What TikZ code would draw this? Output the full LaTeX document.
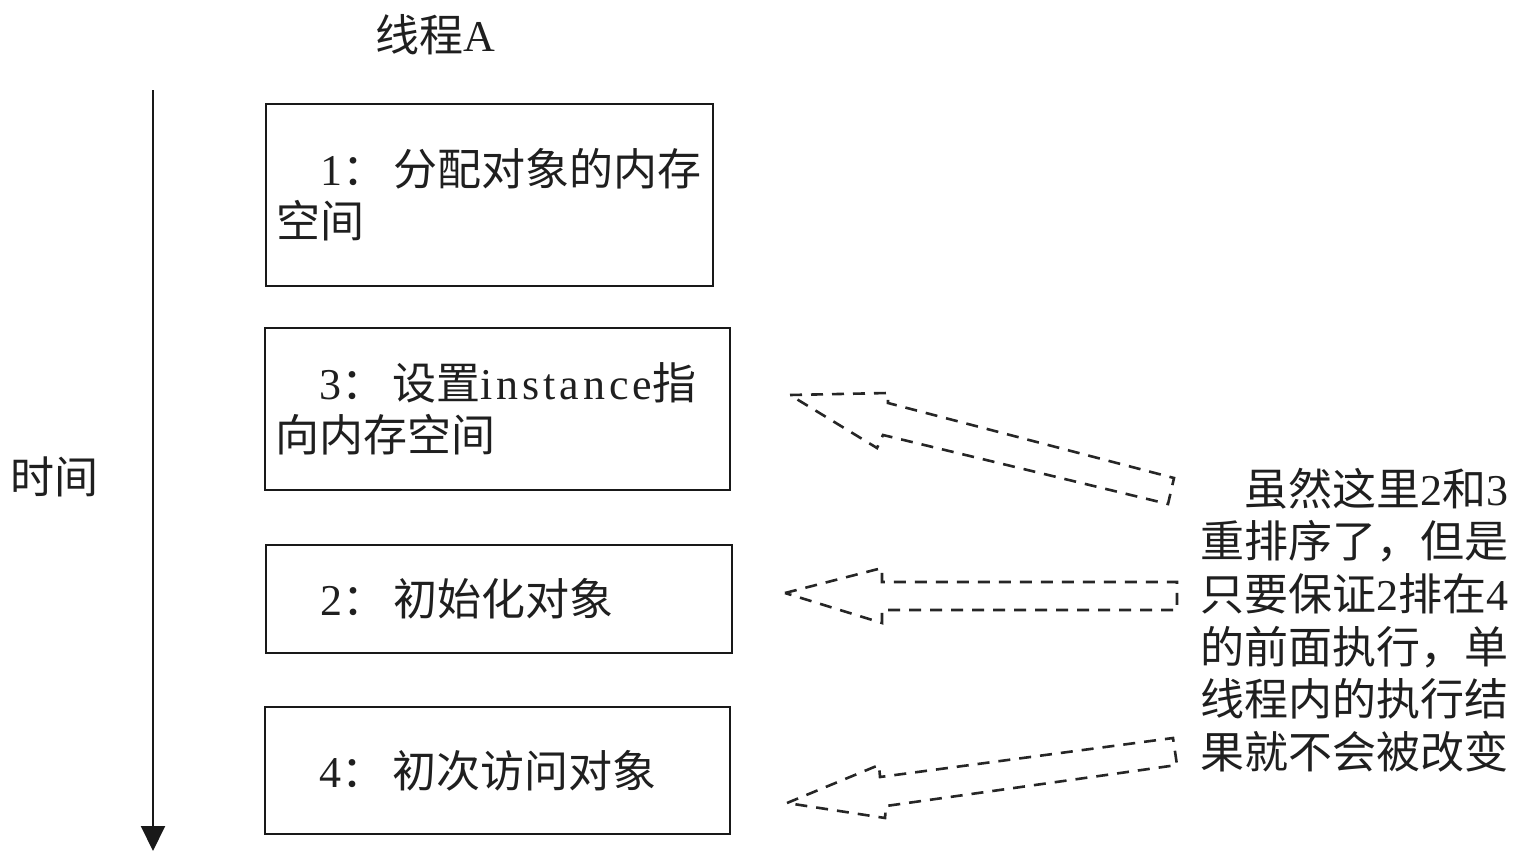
\documentclass[tikz,border=0pt]{standalone}
\usepackage{fontspec}
\setmainfont{Liberation Serif}
\newfontfamily\cjk{Noto Sans CJK SC}
\newfontfamily\latinfont{Liberation Serif}[LetterSpace=9]
\newcommand\lt[1]{{\latinfont #1}}
\usetikzlibrary{arrows.meta}
\begin{document}
\begin{tikzpicture}[x=1pt,y=-1pt,
  zh/.style={font=\fontsize{44pt}{52pt}\selectfont\cjk, text=black!88},
  stepbox/.style={zh, draw=black!90, line width=2pt, inner xsep=10pt, inner ysep=0pt,
    align=left, anchor=north west},
  darrow/.style={draw=black!85, line width=2.6pt, dash pattern=on 12pt off 9pt, line join=miter}]
\useasboundingbox (0,0) rectangle (1513,851);
% title labels
\node[zh] (thread) at (435,35) {线程\lt{A}};
\node[zh] (time) at (54,477) {时间};
% time axis
\coordinate (ts) at (153,90);
\coordinate (te) at (153,851);
\draw[line width=2pt, draw=black!90, -{Triangle[length=25pt,width=24pt]}] (ts) -- (te);
% boxes
\node[stepbox, text width=427pt, minimum height=182pt] (b1) at (265,103)
  {\hspace*{1em}\lt{1}：\,分配对象的内存\\空间};
\node[stepbox, text width=445pt, minimum height=162pt] (b2) at (264,327)
  {\hspace*{1em}\lt{3}：\,设置\lt{instance}指\\向内存空间};
\node[stepbox, text width=446pt, minimum height=108pt] (b3) at (265,544)
  {\hspace*{1em}\lt{2}：\,初始化对象};
\node[stepbox, text width=445pt, minimum height=127pt] (b4) at (264,706)
  {\hspace*{1em}\lt{4}：\,初次访问对象};
% note
\node[zh, font=\fontsize{44pt}{52.6pt}\selectfont\cjk, text width=308pt, align=left, inner sep=0pt] (note) at (1354,620)
  {\hspace*{1em}虽然这里\lt{2}和\lt{3}\\
   重排序了，但是\\
   只要保证\lt{2}排在\lt{4}\\
   的前面执行，单\\
   线程内的执行结\\
   果就不会被改变};
% dashed block arrows
\draw[darrow] (790,395) -- (888,393) -- (888,403) -- (1174,478) -- (1168,504) -- (883,435) -- (877,448) -- cycle;
\draw[darrow] (785,593) -- (882,568) -- (882,582) -- (1177,582) -- (1177,610) -- (882,610) -- (882,623) -- cycle;
\draw[darrow] (787,803) -- (879,765) -- (880,777) -- (1173,738) -- (1177,765) -- (886,806) -- (885,818) -- cycle;
\end{tikzpicture}
\end{document}
